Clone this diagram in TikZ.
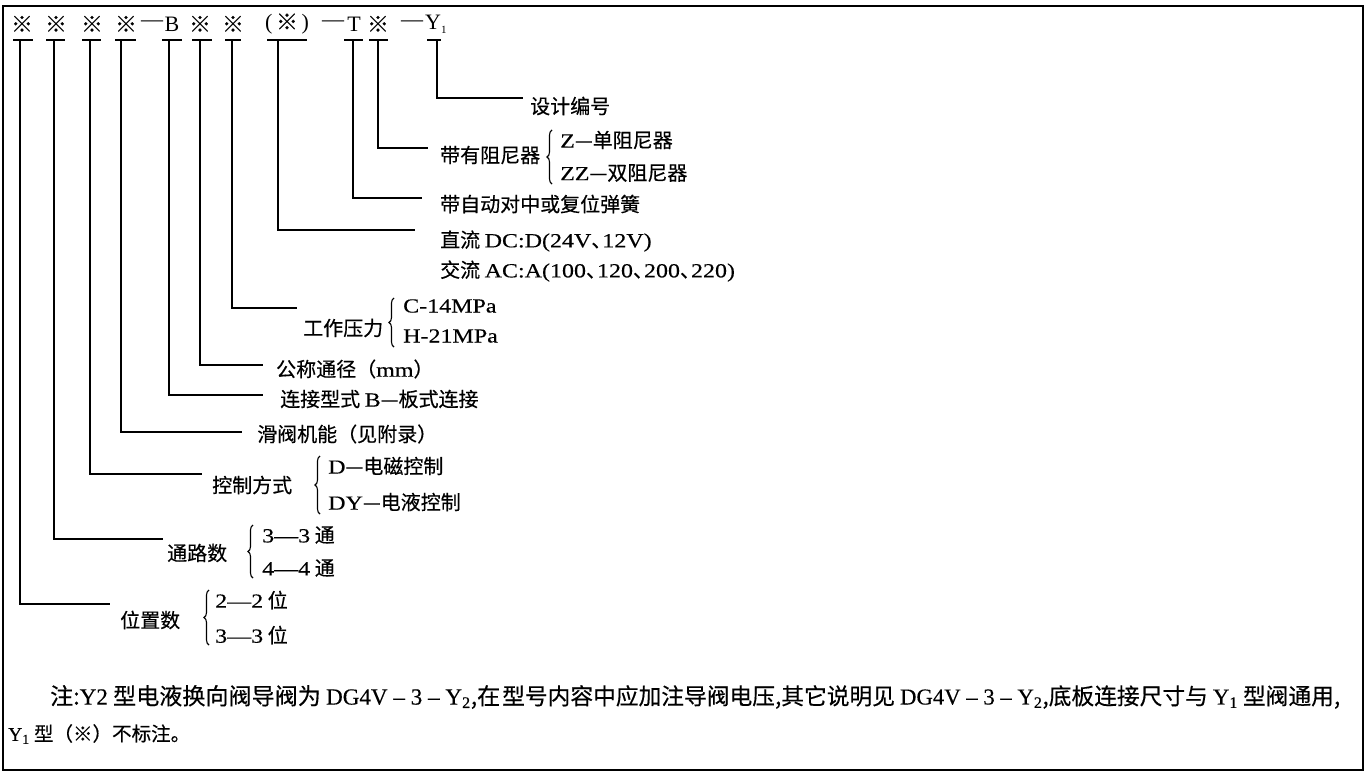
\documentclass[tikz,border=0pt]{standalone}
\usepackage{fontspec}
\usepackage{graphicx}
\setmainfont{Liberation Serif}
\newfontfamily\cjk[FakeBold=0.4]{Noto Sans CJK SC}
\newfontfamily\lat[FakeStretch=1.2,FakeBold=0.3]{Liberation Serif}
\newfontfamily\latnote[FakeBold=0.3]{Liberation Serif}
\newcommand{\dunhao}{{\cjk\makebox[0.55em][l]{、}}}
\usetikzlibrary{decorations.pathreplacing}
\begin{document}
\begin{tikzpicture}[x=1pt,y=-1pt,
  lbl/.style={anchor=west,inner sep=0pt,font=\cjk\fontsize{20}{20}\selectfont},
  tok/.style={inner sep=0pt,anchor=center,font=\fontsize{22}{22}\selectfont},
  ctok/.style={inner sep=0pt,anchor=center,font=\cjk\fontsize{22}{22}\selectfont},
  lead/.style={line width=1.6pt},
  bar/.style={line width=1.6pt},
  brc/.style={decorate,decoration={brace,amplitude=5pt},line width=1.1pt},
  note/.style={anchor=west,inner sep=0pt,font=\cjk\fontsize{21}{21}\selectfont},
  frame/.style={line width=1.6pt}]
\useasboundingbox[fill=white] (0,0) rectangle (1372,773);
\draw[frame] (3,6) rectangle (1363,770);

% code string
\node[ctok] (t1) at (22,24) {※};
\node[ctok] (t2) at (56,24) {※};
\node[ctok] (t3) at (92,24) {※};
\node[ctok] (t4) at (126,24) {※};
\node[tok] (d1) at (152,24) {—};
\node[tok] (t5) at (172,24) {B};
\node[ctok] (t6) at (200,24) {※};
\node[ctok] (t7) at (233,24) {※};
\node[tok] (t8) at (287,24) {(\,{\cjk ※}\,)};
\node[tok] (d2) at (333,24) {—};
\node[tok] (t9) at (354,24) {T};
\node[ctok] (t10) at (378,24) {※};
\node[tok] (d3) at (412,24) {—};
\node[tok,anchor=west] (t11) at (425,24) {Y\raisebox{-4pt}{\fontsize{11}{11}\selectfont 1}};

% bars
\draw[bar] (13,40) -- (33,40);
\draw[bar] (46,40) -- (65,40);
\draw[bar] (82,40) -- (101,40);
\draw[bar] (115,40) -- (136,40);
\draw[bar] (162,40) -- (182,40);
\draw[bar] (192,40) -- (212,40);
\draw[bar] (225,40) -- (241,40);
\draw[bar] (267,40) -- (307,40);
\draw[bar] (344,40) -- (363,40);
\draw[bar] (369,40) -- (388,40);
\draw[bar] (427,40) -- (441,40);

% leader start / end points
\coordinate (p1) at (20,40);   \coordinate (q1) at (110,604);
\coordinate (p2) at (54,40);   \coordinate (q2) at (163,539);
\coordinate (p3) at (90,40);   \coordinate (q3) at (202,474);
\coordinate (p4) at (121,40);  \coordinate (q4) at (242,432);
\coordinate (p5) at (169,40);  \coordinate (q5) at (263,395);
\coordinate (p6) at (200,40);  \coordinate (q6) at (263,365);
\coordinate (p7) at (232,40);  \coordinate (q7) at (297,308);
\coordinate (p8) at (278,40);  \coordinate (q8) at (415,230);
\coordinate (p9) at (353,40);  \coordinate (q9) at (422,198);
\coordinate (p10) at (378,40); \coordinate (q10) at (428,148);
\coordinate (p11) at (437,40); \coordinate (q11) at (523,98);
\foreach \i in {1,...,11} \draw[lead] (p\i) |- (q\i);

% labels
\node[lbl] (l11) at (530,106) {设计编号};
\node[lbl] (l10) at (440,155) {带有阻尼器};
\draw[brc] (552,184) -- (552,130);
\node[lbl] (l10a) at (560,140) {{\lat Z}—单阻尼器};
\node[lbl] (l10b) at (560,173) {{\lat ZZ}—双阻尼器};
\node[lbl] (l9) at (440,204) {带自动对中或复位弹簧};
\node[lbl] (l8a) at (440,241) {直流 {\lat DC:D(24V}\dunhao{\lat 12V)}};
\node[lbl] (l8b) at (440,271) {交流 {\lat AC:A(100}\dunhao{\lat 120}\dunhao{\lat 200}\dunhao{\lat 220)}};
\node[lbl] (l7) at (303,328) {工作压力};
\draw[brc] (394,347) -- (394,298);
\node[lbl] (l7a) at (403,306) {\lat C-14MPa};
\node[lbl] (l7b) at (403,336) {\lat H-21MPa};
\node[lbl] (l6) at (276,369) {公称通径（{\lat mm}）};
\node[lbl] (l5) at (280,399) {连接型式 {\lat B}—板式连接};
\node[lbl] (l4) at (257,434) {滑阀机能（见附录）};
\node[lbl] (l3) at (212,485) {控制方式};
\draw[brc] (320,514) -- (320,456);
\node[lbl] (l3a) at (328,466) {{\lat D}—电磁控制};
\node[lbl] (l3b) at (328,502) {{\lat DY}—电液控制};
\node[lbl] (l2) at (167,553) {通路数};
\draw[brc] (253,578) -- (253,525);
\node[lbl] (l2a) at (262,535) {{\lat 3—3} 通};
\node[lbl] (l2b) at (262,568) {{\lat 4—4} 通};
\node[lbl] (l1) at (120,620) {位置数};
\draw[brc] (209,645) -- (209,590);
\node[lbl] (l1a) at (215,600) {{\lat 2—2} 位};
\node[lbl] (l1b) at (215,635) {{\lat 3—3} 位};

% note
\node[note] (n1a) at (50,697) {\resizebox{450pt}{!}{注:{\latnote Y2} 型电液换向阀导阀为 {\latnote DG4V – 3 – Y\textsubscript{2}},在}};
\node[note] (n1b) at (502,697) {\resizebox{838pt}{!}{型号内容中应加注导阀电压,其它说明见 {\latnote DG4V – 3 – Y\textsubscript{2}},底板连接尺寸与 {\latnote Y\textsubscript{1}} 型阀通用,}};
\node[note] (n2) at (8,734) {\resizebox{182pt}{!}{{\latnote Y\textsubscript{1}} 型（※）不标注。}};
\end{tikzpicture}
\end{document}
